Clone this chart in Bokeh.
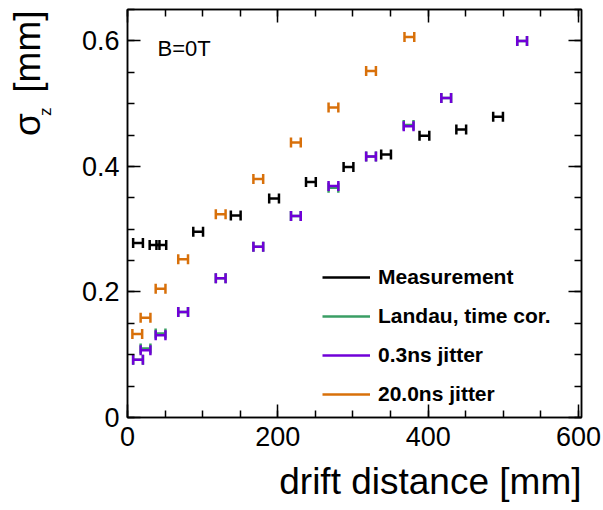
from bokeh.plotting import figure
from bokeh.models import (ColumnDataSource, Whisker, TeeHead, LinearAxis, Range1d,
                          Label, Legend, LegendItem, FixedTicker, Title, CustomJSTickFormatter)
from bokeh.embed import file_html
from bokeh.resources import INLINE

# ---- data ----
meas_x = [14, 36, 45, 94, 144, 195, 244, 294, 344, 395, 444, 493]
meas_y = [0.278, 0.275, 0.275, 0.296, 0.322, 0.349, 0.375, 0.399, 0.419, 0.449, 0.459, 0.479]

landau_x = [14, 24, 44, 74, 124, 174, 224, 274, 324, 374, 424, 525]
landau_y = [0.092, 0.110, 0.134, 0.168, 0.222, 0.272, 0.321, 0.366, 0.416, 0.466, 0.509, 0.600]

j03_x = [14, 24, 44, 74, 124, 174, 224, 274, 324, 374, 424, 525]
j03_y = [0.092, 0.107, 0.131, 0.168, 0.222, 0.272, 0.321, 0.369, 0.416, 0.464, 0.509, 0.600]

j20_x = [13, 24, 44, 74, 124, 174, 224, 274, 324, 375]
j20_y = [0.133, 0.159, 0.205, 0.252, 0.324, 0.380, 0.438, 0.494, 0.552, 0.606]

x_err = 6.5  # half width of the horizontal error bars [mm]

series = [
    ("Measurement", meas_x, meas_y, "#000000"),
    ("Landau, time cor.", landau_x, landau_y, "#3a9e64"),
    ("0.3ns jitter", j03_x, j03_y, "#7000d8"),
    ("20.0ns jitter", j20_x, j20_y, "#d8700a"),
]

x_ticks = [0, 200, 400, 600]
y_ticks = [0, 0.2, 0.4, 0.6]

FONT = "Liberation Sans"

p = figure(width=603, height=510, output_backend="svg", toolbar_location=None,
           x_range=Range1d(0, 604), y_range=Range1d(0, 0.65),
           min_border_left=127, min_border_right=22, min_border_top=9, min_border_bottom=93)
p.xgrid.visible = False
p.ygrid.visible = False
p.outline_line_color = "black"
p.outline_line_width = 1.5
p.background_fill_color = "white"
p.border_fill_color = "white"

xt = FixedTicker(ticks=x_ticks, minor_ticks=list(range(0, 601, 50)))
yt = FixedTicker(ticks=y_ticks, minor_ticks=[i * 0.05 for i in range(0, 14)])

def style_axis(ax, labels=True):
    ax.axis_line_color = "black"
    ax.axis_line_width = 1.5
    ax.major_tick_in = 13
    ax.major_tick_out = 0
    ax.minor_tick_in = 7
    ax.minor_tick_out = 0
    ax.major_tick_line_width = 1.5
    ax.minor_tick_line_width = 1.5
    ax.major_tick_line_color = "black"
    ax.minor_tick_line_color = "black"
    if labels:
        ax.major_label_text_font = FONT
        ax.major_label_text_font_size = "27px"
        ax.major_label_text_color = "black"
    else:
        ax.formatter = CustomJSTickFormatter(code="return ''")
        ax.major_label_standoff = 0

p.xaxis.ticker = xt
p.yaxis.ticker = yt
p.yaxis.formatter.use_scientific = False
style_axis(p.xaxis[0])
style_axis(p.yaxis[0])
p.xaxis.major_label_standoff = 9
p.yaxis.major_label_standoff = 8
# invisible spacer labels that set the size of the axis panels
p.xaxis.axis_label = " "
p.xaxis.axis_label_text_font_size = "1px"
p.xaxis.axis_label_standoff = 10
p.yaxis.axis_label = " "
p.yaxis.axis_label_text_font_size = "1px"
p.yaxis.axis_label_standoff = 25

top = LinearAxis(ticker=xt)
right = LinearAxis(ticker=yt)
style_axis(top, labels=False)
style_axis(right, labels=False)
p.add_layout(top, "above")
p.add_layout(right, "right")

legend_items = []
for name, xs, ys, col in series:
    src = ColumnDataSource(dict(
        x=xs, y=ys,
        xl=[v - x_err for v in xs], xu=[v + x_err for v in xs]))
    w = Whisker(source=src, base="y", lower="xl", upper="xu", dimension="width",
                line_color=col, line_width=2.5,
                lower_head=TeeHead(size=10, line_color=col, line_width=2.5),
                upper_head=TeeHead(size=10, line_color=col, line_width=2.5))
    p.add_layout(w)
    # a one-point line draws nothing; it only supplies the legend swatch
    r = p.line(x=xs[:1], y=ys[:1], line_color=col, line_width=2.5)
    legend_items.append(LegendItem(label=name, renderers=[r]))

leg = Legend(items=legend_items, location=(195, 11),
             glyph_width=48, glyph_height=20, label_height=20, spacing=15,
             label_standoff=8, padding=0, margin=0,
             border_line_color=None, background_fill_alpha=0,
             label_text_font=FONT, label_text_font_style="bold",
             label_text_font_size="21px", label_text_color="black")
p.add_layout(leg)

p.add_layout(Label(x=40, y=0.588, text="B=0T",
                   text_font=FONT, text_font_size="22px", text_color="black",
                   text_baseline="alphabetic"))

# axis titles
p.add_layout(Title(text="drift distance [mm]", align="right", vertical_align="top",
                   standoff=-4, offset=0, text_font=FONT, text_font_size="37px",
                   text_font_style="normal", text_color="black"), "below")
p.add_layout(Title(text="z", align="right", vertical_align="bottom",
                   standoff=-10, offset=98, text_font=FONT, text_font_size="17px",
                   text_font_style="normal", text_color="black"), "left")
p.add_layout(Title(text="σ\u00a0\u00a0[mm]", align="right", vertical_align="bottom",
                   standoff=-19, offset=1, text_font=FONT, text_font_size="37px",
                   text_font_style="normal", text_color="black"), "left")

open("out.html", "w").write(file_html(p, INLINE))
